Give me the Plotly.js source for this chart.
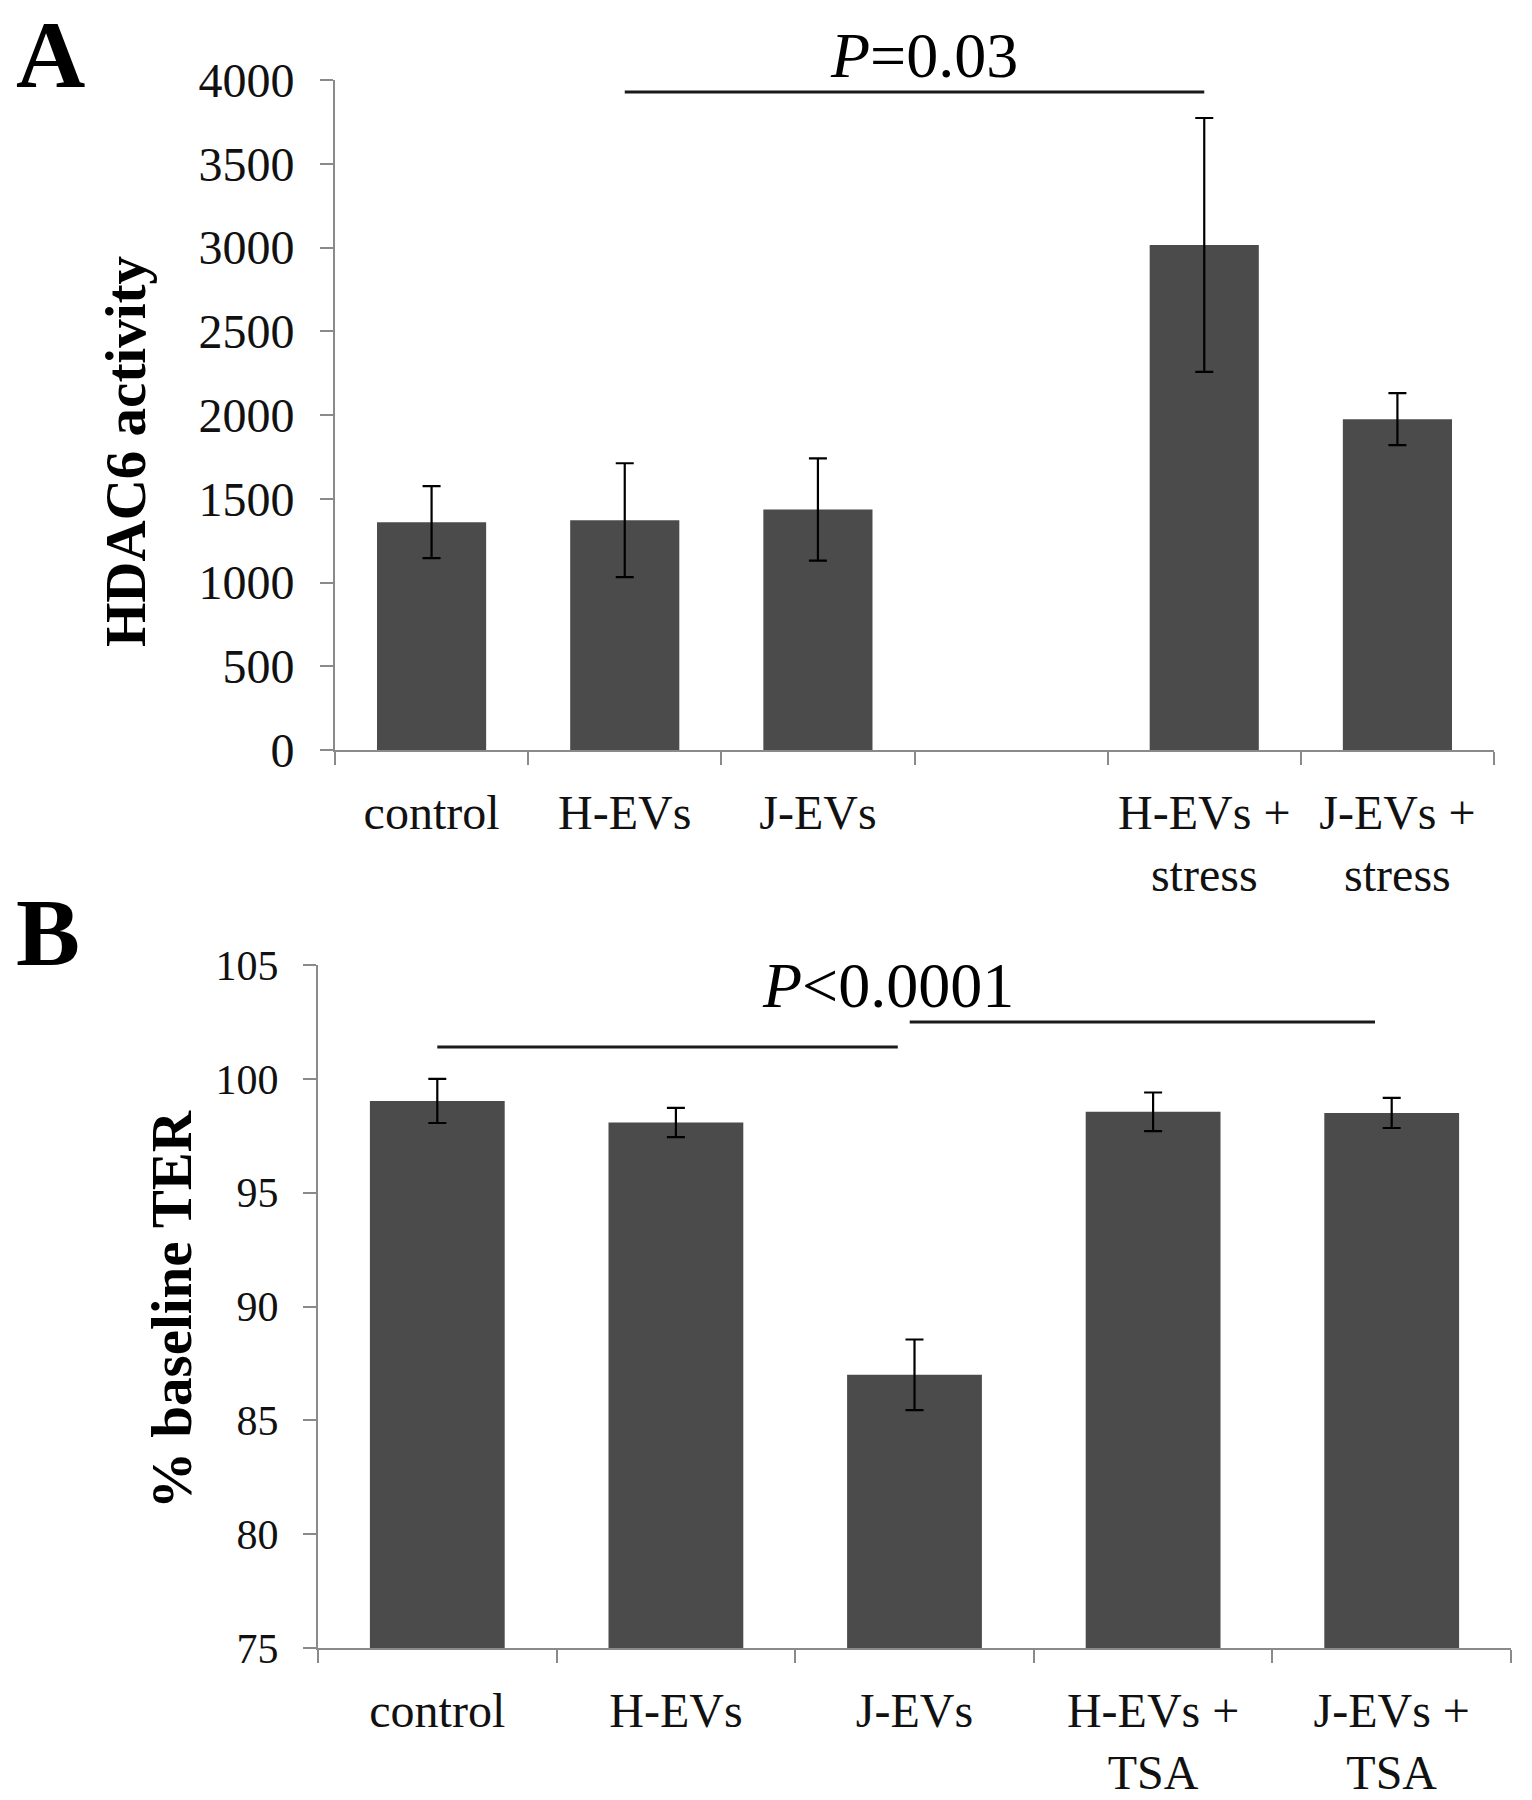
<!DOCTYPE html>
<html><head><meta charset="utf-8">
<script src="https://cdn.plot.ly/plotly-3.0.1.min.js"></script>
<style>html,body{margin:0;padding:0;background:#fff}</style>
</head><body>
<div id="chart" style="width:1532px;height:1800px"></div>
<script>
// ---- Panel A data ----
const catsA = ['control', 'H-EVs', 'J-EVs', ' ', 'H-EVs +<br>stress', 'J-EVs +<br>stress'];
const hdac6 = [1360, 1372, 1436, null, 3015, 1975];
const hdac6Err = [215, 340, 305, null, 758, 155];
const sigA = {x0: 1, x1: 4, y: 3928, label: '<i>P</i>=0.03', labelX: 2.55};

// ---- Panel B data ----
const catsB = ['control', 'H-EVs', 'J-EVs', 'H-EVs +<br>TSA', 'J-EVs +<br>TSA'];
const ter = [99.03, 98.08, 87.0, 98.55, 98.5];
const terErr = [0.97, 0.64, 1.55, 0.85, 0.66];
const sigB1 = {x0: 0, x1: 1.93, y: 101.4};
const sigB2 = {x0: 1.98, x1: 3.93, y: 102.5};
const sigBLabel = {text: '<i>P</i>&lt;0.0001', x: 1.89, y: 104.12};

const W = 1532, H = 1800;
const fx = v => v / W;
const fy = v => (H - v) / H;
const FONT = 'Liberation Serif, Times New Roman, serif';
const BAR = '#4b4b4b';
const AXC = '#8a8a8a';

const errStyle = arr => ({type: 'data', array: arr, visible: true, color: '#000', thickness: 2.2, width: 9});

const traces = [
  {type: 'bar', x: catsA, y: hdac6, xaxis: 'x', yaxis: 'y', marker: {color: BAR}, error_y: errStyle(hdac6Err), hoverinfo: 'skip'},
  {type: 'bar', x: catsB, y: ter, xaxis: 'x2', yaxis: 'y2', marker: {color: BAR}, error_y: errStyle(terErr), hoverinfo: 'skip'}
];

const axCommon = {
  showline: true, linecolor: AXC, linewidth: 2, ticks: 'outside', ticklen: 13, tickwidth: 2,
  tickcolor: AXC, showgrid: false, zeroline: false, fixedrange: true
};

const layout = {
  width: W, height: H, margin: {l: 0, r: 0, t: 0, b: 0},
  paper_bgcolor: '#fff', plot_bgcolor: 'rgba(0,0,0,0)', showlegend: false, bargap: 0.435,
  xaxis: Object.assign({}, axCommon, {
    domain: [fx(335), fx(1494)], anchor: 'y', type: 'category', categoryorder: 'array',
    categoryarray: catsA, range: [-0.5, 5.5], tickson: 'boundaries',
    tickfont: {family: FONT, size: 48, color: '#111'}, ticklabelstandoff: 19
  }),
  yaxis: Object.assign({}, axCommon, {
    domain: [fy(750), fy(80)], anchor: 'x', range: [0, 4000], tick0: 0, dtick: 500,
    tickfont: {family: FONT, size: 48, color: '#111'}, ticklabelstandoff: 16
  }),
  xaxis2: Object.assign({}, axCommon, {
    domain: [fx(318), fx(1511)], anchor: 'y2', type: 'category', categoryorder: 'array',
    categoryarray: catsB, range: [-0.5, 4.5], tickson: 'boundaries',
    tickfont: {family: FONT, size: 48, color: '#111'}, ticklabelstandoff: 19
  }),
  yaxis2: Object.assign({}, axCommon, {
    domain: [fy(1648), fy(965)], anchor: 'x2', range: [75, 105], tick0: 75, dtick: 5,
    tickfont: {family: FONT, size: 42, color: '#111'}, ticklabelstandoff: 16
  }),
  shapes: [
    {type: 'line', xref: 'x', yref: 'y', x0: sigA.x0, x1: sigA.x1, y0: sigA.y, y1: sigA.y, line: {color: '#1a1a1a', width: 3}},
    {type: 'line', xref: 'x2', yref: 'y2', x0: sigB1.x0, x1: sigB1.x1, y0: sigB1.y, y1: sigB1.y, line: {color: '#1a1a1a', width: 3}},
    {type: 'line', xref: 'x2', yref: 'y2', x0: sigB2.x0, x1: sigB2.x1, y0: sigB2.y, y1: sigB2.y, line: {color: '#1a1a1a', width: 3}}
  ],
  annotations: [
    {text: '<b>A</b>', xref: 'paper', yref: 'paper', x: fx(14), y: fy(54), xanchor: 'left', yanchor: 'middle', showarrow: false, font: {family: FONT, size: 96, color: '#000'}},
    {text: '<b>B</b>', xref: 'paper', yref: 'paper', x: fx(14), y: fy(932), xanchor: 'left', yanchor: 'middle', showarrow: false, font: {family: FONT, size: 96, color: '#000'}},
    {text: '<b>HDAC6 activity</b>', xref: 'paper', yref: 'paper', x: fx(126), y: fy(451), xanchor: 'center', yanchor: 'middle', textangle: -90, showarrow: false, font: {family: FONT, size: 57, color: '#000'}},
    {text: '<b>% baseline TER</b>', xref: 'paper', yref: 'paper', x: fx(171), y: fy(1310), xanchor: 'center', yanchor: 'middle', textangle: -90, showarrow: false, font: {family: FONT, size: 57, color: '#000'}},
    {text: sigA.label, xref: 'x', yref: 'paper', x: sigA.labelX, y: fy(56), xanchor: 'center', yanchor: 'middle', showarrow: false, font: {family: FONT, size: 64, color: '#000'}},
    {text: sigBLabel.text, xref: 'x2', yref: 'y2', x: sigBLabel.x, y: sigBLabel.y, xanchor: 'center', yanchor: 'middle', showarrow: false, font: {family: FONT, size: 64, color: '#000'}}
  ]
};

Plotly.newPlot('chart', traces, layout, {staticPlot: true, displayModeBar: false});
</script>
</body></html>
